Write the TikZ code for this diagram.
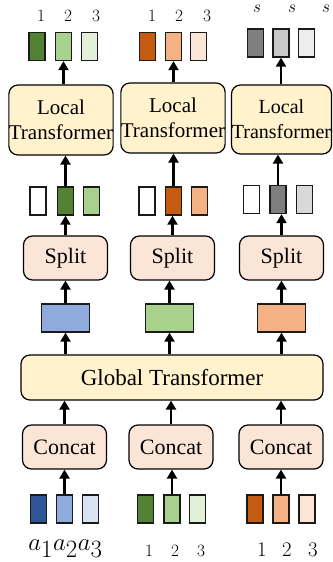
\documentclass[tikz,border=0pt]{standalone}
\usepackage[no-math]{fontspec}
\setmainfont{Liberation Serif}
\usetikzlibrary{arrows.meta}
\definecolor{bD}{HTML}{2F5597}\definecolor{bM}{HTML}{8FAADC}\definecolor{bL}{HTML}{DAE3F3}
\definecolor{gD}{HTML}{548235}\definecolor{gM}{HTML}{A9D18E}\definecolor{gL}{HTML}{E2F0D9}
\definecolor{oD}{HTML}{C55A11}\definecolor{oM}{HTML}{F4B183}\definecolor{oL}{HTML}{FBE5D6}
\definecolor{kD}{HTML}{7F7F7F}\definecolor{kM}{HTML}{C9C9C9}\definecolor{kL}{HTML}{EDEDED}\definecolor{kS}{HTML}{D9D9D9}
\definecolor{yel}{HTML}{FFF2CC}\definecolor{pch}{HTML}{FBE5D6}\definecolor{edge}{HTML}{1A1A1A}
\tikzset{
 tok/.style={draw=edge,line width=1.3pt,minimum width=16pt,minimum height=28pt,inner sep=0pt},
 bigtok/.style={draw=edge,line width=1.3pt,minimum width=48pt,minimum height=28pt,inner sep=0pt},
 ybox/.style={draw=black,line width=1.2pt,rounded corners=9pt,fill=yel,inner sep=0pt,align=center},
 pbox/.style={draw=black,line width=1.2pt,rounded corners=9pt,fill=pch,inner sep=0pt,minimum width=84pt,minimum height=44pt,font=\fontsize{22}{26}\selectfont},
 arr/.style={line width=2.2pt,-{Triangle[length=9pt,width=10pt]}},
 lab/.style={inner sep=0pt}
}
\begin{document}
\begin{tikzpicture}[x=1pt,y=-1pt]
\useasboundingbox (0,0) rectangle (332,562);
% bottom tokens
\node[tok,fill=bD] (b11) at (38.5,509) {};
\node[tok,fill=bM] (b12) at (64.5,509) {};
\node[tok,fill=bL] (b13) at (90.5,509) {};
\node[tok,fill=gD] (b21) at (145.5,509) {};
\node[tok,fill=gM] (b22) at (172,509) {};
\node[tok,fill=gL] (b23) at (197.5,509) {};
\node[tok,fill=oD] (b31) at (255,509) {};
\node[tok,fill=oM] (b32) at (281,509) {};
\node[tok,fill=oL] (b33) at (307,509) {};
% bottom labels
\node[lab,anchor=base,font=\fontsize{35}{37}\selectfont] (la) at (65.5,550) {$a_1a_2a_3$};
\node[lab,font=\fontsize{16.5}{18}\selectfont] (lb1) at (149,551) {$1$};
\node[lab,font=\fontsize{16.5}{18}\selectfont] (lb2) at (175,551) {$2$};
\node[lab,font=\fontsize{16.5}{18}\selectfont] (lb3) at (201,551) {$3$};
\node[lab,font=\fontsize{21.5}{22}\selectfont] (lc1) at (262,550) {$1$};
\node[lab,font=\fontsize{21.5}{22}\selectfont] (lc2) at (287,550) {$2$};
\node[lab,font=\fontsize{21.5}{22}\selectfont] (lc3) at (313,550) {$3$};
% concat
\node[pbox] (c1) at (64.5,447) {Concat};
\node[pbox] (c2) at (171,447) {Concat};
\node[pbox] (c3) at (281,447) {Concat};
% global
\node[ybox,minimum width=302pt,minimum height=45pt,font=\fontsize{23}{26}\selectfont] (g) at (172,377.5) {Global Transformer};
% big colored tokens
\node[bigtok,fill=bM] (m1) at (65.5,318) {};
\node[bigtok,fill=gM] (m2) at (169.5,318) {};
\node[bigtok,fill=oM] (m3) at (281.5,318) {};
% split
\node[pbox] (s1) at (65.5,258) {Split};
\node[pbox] (s2) at (172.5,258) {Split};
\node[pbox] (s3) at (281.5,258) {Split};
% split outputs
\node[tok,fill=white] (o11) at (38,201) {};
\node[tok,fill=gD] (o12) at (65.5,201) {};
\node[tok,fill=gM] (o13) at (91.5,201) {};
\node[tok,fill=white] (o21) at (147,201) {};
\node[tok,fill=oD] (o22) at (173.5,201) {};
\node[tok,fill=oM] (o23) at (199.5,201) {};
\node[tok,fill=white] (o31) at (251.5,199.5) {};
\node[tok,fill=kD] (o32) at (278,199.5) {};
\node[tok,fill=kS] (o33) at (304.5,199.5) {};
% local
\node[ybox,minimum width=104pt,minimum height=70pt,font=\fontsize{21}{25}\selectfont] (l1) at (61,120) {Local\\Transformer};
\node[ybox,minimum width=102pt,minimum height=70pt,font=\fontsize{21}{25}\selectfont] (l2) at (173,118) {Local\\Transformer};
\node[ybox,minimum width=100pt,minimum height=69pt,font=\fontsize{20}{25}\selectfont] (l3) at (281.5,119.5) {Local\\Transformer};
% top outputs
\node[tok,fill=gD] (t11) at (37,46.5) {};
\node[tok,fill=gM] (t12) at (63.5,46.5) {};
\node[tok,fill=gL] (t13) at (89.5,46.5) {};
\node[tok,fill=oD] (t21) at (147.5,46.5) {};
\node[tok,fill=oM] (t22) at (173.5,46.5) {};
\node[tok,fill=oL] (t23) at (198.5,46.5) {};
\node[tok,fill=kD] (t31) at (255.5,43) {};
\node[tok,fill=kM] (t32) at (281,43) {};
\node[tok,fill=kL] (t33) at (306.5,43) {};
% top labels
\node[lab,font=\fontsize{16.5}{18}\selectfont] (ta1) at (41,15.5) {$1$};
\node[lab,font=\fontsize{16.5}{18}\selectfont] (ta2) at (68,15.5) {$2$};
\node[lab,font=\fontsize{16.5}{18}\selectfont] (ta3) at (96,15.5) {$3$};
\node[lab,font=\fontsize{19}{20}\selectfont] (tb1) at (152,15.5) {$1$};
\node[lab,font=\fontsize{19}{20}\selectfont] (tb2) at (179,15.5) {$2$};
\node[lab,font=\fontsize{19}{20}\selectfont] (tb3) at (207,15.5) {$3$};
\node[lab,font=\fontsize{19}{20}\selectfont] (tc1) at (257,9) {$s$};
\node[lab,font=\fontsize{19}{20}\selectfont] (tc2) at (292,9) {$s$};
\node[lab,font=\fontsize{19}{20}\selectfont] (tc3) at (326,9) {$s$};
% arrows
\foreach \bt/\c/\m/\s/\o/\l/\t in {b12/c1/m1/s1/o12/l1/t12, b22/c2/m2/s2/o22/l2/t22, b32/c3/m3/s3/o32/l3/t32}{
 \draw[arr] (\bt.north) -- (\bt.north |- \c.south);
 \draw[arr] (\c.north) -- (\c.north |- g.south);
 \draw[arr] (\m.south |- g.north) -- (\m.south);
 \draw[arr] (\m.north) -- (\m.north |- \s.south);
 \draw[arr] (\s.north) -- (\s.north |- \o.south);
 \draw[arr] (\o.north) -- (\o.north |- \l.south);
 \draw[arr] (\t.south |- \l.north) -- (\t.south);
}
\end{tikzpicture}
\end{document}
